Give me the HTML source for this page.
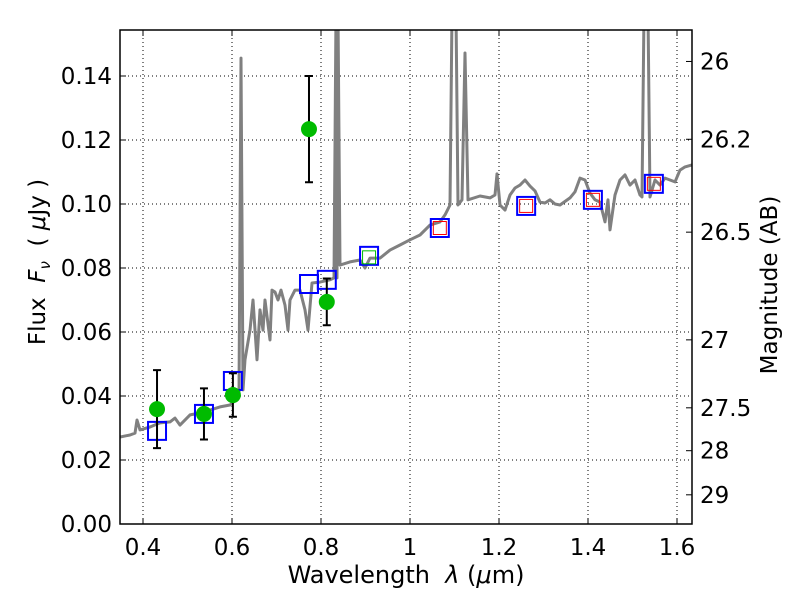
<!DOCTYPE html>
<html><head><meta charset="utf-8">
<style>
html,body{margin:0;padding:0;background:#fff;}
svg{display:block;font-family:"DejaVu Sans","Liberation Sans",sans-serif;}
</style></head>
<body>
<svg id="chart" width="800" height="600" viewBox="0 0 800 600" xmlns="http://www.w3.org/2000/svg">
<rect x="0" y="0" width="800" height="600" fill="#fff"/>
<g id="grid"></g>
<g id="series"></g>
<g id="axes"></g>
</svg>
<script>
const xTicks = [0.4, 0.6, 0.8, 1.0, 1.2, 1.4, 1.6];
const xTickLabels = ["0.4", "0.6", "0.8", "1", "1.2", "1.4", "1.6"];
const yTicks = [0, 0.02, 0.04, 0.06, 0.08, 0.10, 0.12, 0.14];
const yTickLabels = ["0.00", "0.02", "0.04", "0.06", "0.08", "0.10", "0.12", "0.14"];
const magTicks = [26, 26.2, 26.5, 27, 27.5, 28, 29];
const magTickLabels = ["26", "26.2", "26.5", "27", "27.5", "28", "29"];
// spectrum (wavelength um, flux uJy)
const specLam = [0.3483,0.3708,0.382,0.3865,0.3933,0.4157,0.4382,0.4607,0.4719,0.4831,0.5056,0.5281,0.5506,0.5730,0.5955,0.609,0.6157,0.6202,0.6247,0.6292,0.6404,0.6472,0.6562,0.6629,0.6697,0.6742,0.6854,0.6899,0.6966,0.7034,0.7101,0.7191,0.7258,0.7303,0.7416,0.7528,0.764,0.7708,0.7798,0.7978,0.8202,0.8292,0.8337,0.836,0.8382,0.8427,0.8652,0.8876,0.8989,0.9101,0.9326,0.9551,0.9775,1.0,1.0225,1.0449,1.0674,1.0787,1.0899,1.0944,1.1034,1.1079,1.1169,1.1236,1.1303,1.1573,1.1798,1.191,1.1955,1.2022,1.2135,1.2247,1.236,1.2472,1.2584,1.2697,1.2809,1.2921,1.3034,1.3146,1.3258,1.3371,1.3596,1.3708,1.382,1.3933,1.4045,1.4157,1.427,1.4382,1.4449,1.4494,1.4607,1.4719,1.4831,1.4944,1.5056,1.5169,1.5213,1.5258,1.5348,1.5393,1.5506,1.5618,1.573,1.5843,1.5955,1.6067,1.618,1.6337];
const specFlux = [0.0272,0.0278,0.0284,0.0325,0.0294,0.0303,0.0316,0.0319,0.0331,0.0309,0.0341,0.0347,0.0356,0.0366,0.0372,0.0388,0.0403,0.1456,0.0419,0.0513,0.0606,0.0700,0.0513,0.0669,0.0606,0.0700,0.0575,0.0731,0.0725,0.0700,0.0731,0.0684,0.0606,0.0700,0.0731,0.0731,0.0669,0.0606,0.0753,0.0756,0.0763,0.0769,0.16,0.0769,0.16,0.0809,0.0819,0.0825,0.0800,0.0831,0.0831,0.0856,0.0872,0.0888,0.0903,0.0934,0.0944,0.0966,0.0997,0.16,0.16,0.0997,0.1013,0.1472,0.1013,0.1025,0.1019,0.1028,0.1094,0.0997,0.0981,0.1028,0.1050,0.1059,0.1075,0.1056,0.1041,0.1006,0.1003,0.1013,0.1000,0.0997,0.1019,0.1038,0.1081,0.1075,0.1034,0.1013,0.1006,0.0944,0.1013,0.0919,0.1028,0.1075,0.1091,0.1059,0.1075,0.1028,0.1022,0.16,0.16,0.1022,0.1075,0.1059,0.1081,0.1075,0.1069,0.1106,0.1116,0.1122];
// observed photometry
const obsLam = [0.4315, 0.537, 0.602, 0.773, 0.813];
const obsFlux = [0.0359, 0.0344, 0.0403, 0.1234, 0.0694];
const obsErr = [0.0122, 0.0080, 0.0068, 0.0166, 0.0073];
// model photometry
const modLam = [0.4315, 0.537, 0.602, 0.773, 0.813, 0.908, 1.067, 1.261, 1.411, 1.548];
const modFlux = [0.0291, 0.0344, 0.0447, 0.0750, 0.0763, 0.0838, 0.0925, 0.0994, 0.1013, 0.1063];
const greenLam = [0.908];
const greenFlux = [0.0838];
const redLam = [1.067, 1.261, 1.411, 1.548];
const redFlux = [0.0925, 0.0994, 0.1013, 0.1063];

const L=120, R=692, T=30, B=524;
const xMin=0.3483, xMax=1.6337, yMin=0, yMax=0.154375;
const xs = v => L + (v-xMin)/(xMax-xMin)*(R-L);
const ys = v => B - (v-yMin)/(yMax-yMin)*(B-T);
const magToFlux = m => Math.pow(10,(23.9-m)/2.5);
const NS="http://www.w3.org/2000/svg";
function mk(tag, attrs, parent){const e=document.createElementNS(NS,tag);for(const k in attrs)e.setAttribute(k,attrs[k]);parent.appendChild(e);return e;}
const grid=document.getElementById('grid'), series=document.getElementById('series'), axes=document.getElementById('axes');

xTicks.forEach((t,i)=>{
  const g=mk('line',{x1:xs(t),x2:xs(t),y1:T,y2:B,stroke:'#000','stroke-width':1,'stroke-dasharray':'1,3'},grid);
  
  
  const tk=mk('line',{x1:xs(t),x2:xs(t),y1:B,y2:B-6,stroke:'#000','stroke-width':1},axes);
  
  
  const tk2=mk('line',{x1:xs(t),x2:xs(t),y1:T,y2:T+6,stroke:'#000','stroke-width':1},axes);
  
  
  const lb=mk('text',{x:xs(t),y:555,'text-anchor':'middle','font-size':23},axes);
  lb.textContent=xTickLabels[i];
  
  
});
yTicks.forEach((t,i)=>{
  const g=mk('line',{x1:L,x2:R,y1:ys(t),y2:ys(t),stroke:'#000','stroke-width':1,'stroke-dasharray':'1,3'},grid);
  
  
  const tk=mk('line',{x1:L,x2:L+6,y1:ys(t),y2:ys(t),stroke:'#000','stroke-width':1},axes);
  
  
  const lb=mk('text',{x:112,y:ys(t)+8,'text-anchor':'end','font-size':23},axes);
  lb.textContent=yTickLabels[i];
  
  
});
magTicks.forEach((m,i)=>{
  const y=ys(magToFlux(m));
  const tk=mk('line',{x1:R,x2:R-6,y1:y,y2:y,stroke:'#000','stroke-width':1},axes);
  
  
  const lb=mk('text',{x:700,y:y+8,'text-anchor':'start','font-size':23},axes);
  lb.textContent=magTickLabels[i];
  
  
});

// spectrum
const clip=mk('clipPath',{id:'pc'},series); mk('rect',{x:L,y:T,width:R-L,height:B-T},clip);
const pts=specLam.map((l,i)=>xs(l).toFixed(1)+','+ys(specFlux[i]).toFixed(1)).join(' ');
const sp=mk('polyline',{points:pts,fill:'none',stroke:'#808080','stroke-width':3,'stroke-linejoin':'round','clip-path':'url(#pc)'},series);



// model squares
modLam.forEach((l,i)=>{
  const s=mk('rect',{x:xs(l)-9,y:ys(modFlux[i])-9,width:18,height:18,fill:'none',stroke:'#0000ff','stroke-width':2},series);
  
  
});
greenLam.forEach((l,i)=>{
  const s=mk('rect',{x:xs(l)-6.5,y:ys(greenFlux[i])-5,width:13,height:13,fill:'none',stroke:'#00bb00','stroke-width':1},series);
  
  
});
redLam.forEach((l,i)=>{
  const s=mk('rect',{x:xs(l)-6.5,y:ys(redFlux[i])-6.5,width:13,height:13,fill:'none',stroke:'#ff0000','stroke-width':1},series);
  
  
});
// observed
obsLam.forEach((l,i)=>{
  const x=xs(l), y1=ys(obsFlux[i]+obsErr[i]), y2=ys(obsFlux[i]-obsErr[i]);
  const e=mk('path',{d:`M${x},${y1}V${y2}M${x-4},${y1}H${x+4}M${x-4},${y2}H${x+4}`,stroke:'#000','stroke-width':2,fill:'none'},series);
  
  
  const c=mk('circle',{cx:x,cy:ys(obsFlux[i]),r:8,fill:'#00bb00'},series);
  
  
});

const fr=mk('rect',{x:L,y:T,width:R-L,height:B-T,fill:'none',stroke:'#000','stroke-width':1.5},axes);


const xl=mk('text',{x:406,y:583,'text-anchor':'middle','font-size':24},axes);
xl.innerHTML='Wavelength\u00a0\u00a0<tspan font-style="italic">λ</tspan> (<tspan font-style="italic">μ</tspan>m)';


const yl=mk('text',{x:0,y:0,'text-anchor':'middle','font-size':23,transform:'translate(45,262) rotate(-90)'},axes);
yl.innerHTML='Flux\u00a0\u00a0<tspan font-style="italic">F</tspan><tspan font-style="italic" font-size="15" dy="5">ν</tspan><tspan dy="-5">\u00a0\u00a0(\u00a0</tspan><tspan font-style="italic">μ</tspan>Jy )';


const ml=mk('text',{x:0,y:0,'text-anchor':'middle','font-size':23,transform:'translate(777,285) rotate(-90)'},axes);
ml.textContent='Magnitude (AB)';


</script>
</body></html>
